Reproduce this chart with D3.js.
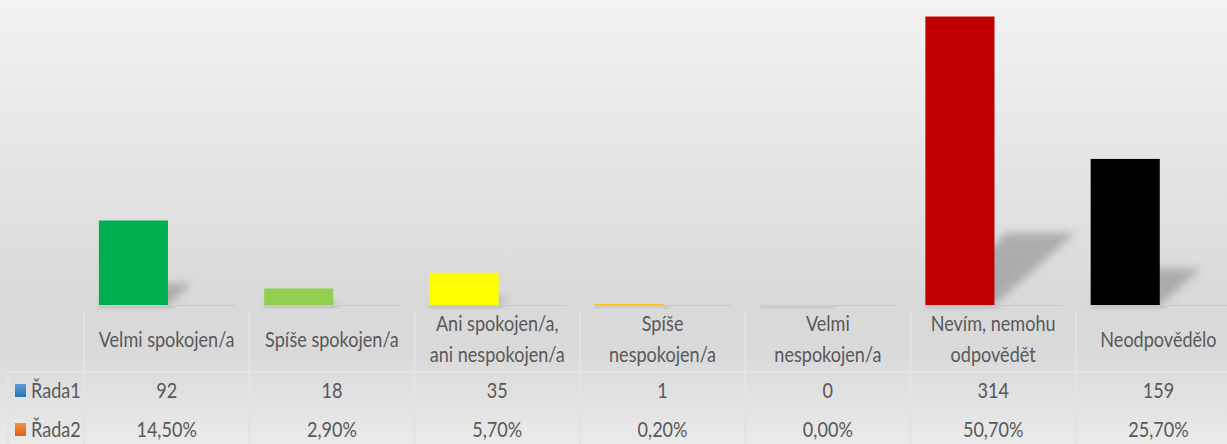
<!DOCTYPE html>
<meta charset="utf-8">
<script src="https://d3js.org/d3.v7.min.js"></script>
<style>
  body { margin: 0; background: #fff; }
  text { font-family: Lato, "Open Sans", sans-serif; fill: #595959; }
</style>
<div id="chart"></div>
<script>

// data
var categories = ["Velmi spokojen/a", "Spíše spokojen/a", "Ani spokojen/a, ani nespokojen/a",
                  "Spíše nespokojen/a", "Velmi nespokojen/a", "Nevím, nemohu odpovědět", "Neodpovědělo"];
var labelLines = [["Velmi spokojen/a"], ["Spíše spokojen/a"], ["Ani spokojen/a,", "ani nespokojen/a"],
                  ["Spíše", "nespokojen/a"], ["Velmi", "nespokojen/a"], ["Nevím, nemohu", "odpovědět"], ["Neodpovědělo"]];
var rada1 = [92, 18, 35, 1, 0, 314, 159];
var rada2 = ["14,50%", "2,90%", "5,70%", "0,20%", "0,00%", "50,70%", "25,70%"];
var barColors = ["#00b050", "#92d050", "#ffff00", "#ffc000", "#ff0000", "#c00000", "#000000"];
var seriesNames = ["Řada1", "Řada2"];

var width = 1227, height = 444;
var baseY = 305;
var sx = 0.86; // text is squeezed horizontally in the original

var svg = d3.select("#chart").append("svg")
  .attr("width", width)
  .attr("height", height);

var defs = svg.append("defs");
var bg = defs.append("linearGradient").attr("id", "bg")
  .attr("x1", 0).attr("y1", 0).attr("x2", 0).attr("y2", 1);
bg.append("stop").attr("offset", "0").attr("stop-color", "#f2f2f2");
bg.append("stop").attr("offset", "0.68").attr("stop-color", "#d9d9d9");
bg.append("stop").attr("offset", "0.8").attr("stop-color", "#dadada");
bg.append("stop").attr("offset", "1").attr("stop-color", "#eaeaea");

defs.append("filter").attr("id", "blur")
  .attr("x", "-50%").attr("y", "-50%").attr("width", "200%").attr("height", "200%")
  .append("feGaussianBlur").attr("stdDeviation", 4);
defs.append("filter").attr("id", "blur2")
  .append("feGaussianBlur").attr("stdDeviation", 1);

var g1 = defs.append("linearGradient").attr("id", "k0").attr("x1", 0).attr("y1", 0).attr("x2", 0).attr("y2", 1);
g1.append("stop").attr("offset", 0).attr("stop-color", "#5b9bd5");
g1.append("stop").attr("offset", 1).attr("stop-color", "#2e75b6");
var g2 = defs.append("linearGradient").attr("id", "k1").attr("x1", 0).attr("y1", 0).attr("x2", 0).attr("y2", 1);
g2.append("stop").attr("offset", 0).attr("stop-color", "#f4903e");
g2.append("stop").attr("offset", 1).attr("stop-color", "#d9621b");

svg.append("rect").attr("width", width).attr("height", height).attr("fill", "url(#bg)");

// scales
var x = d3.scaleBand()
  .domain(categories)
  .range([84, 84 + 7 * 165.3])
  .padding(0);
var bw = x.bandwidth();
var barOff = bw * 0.09, barW = bw * 0.418;

var y = d3.scaleLinear()
  .domain([0, 332])
  .range([baseY, 0]);

// shadows
svg.append("g").selectAll("path")
  .data(rada1)
  .enter().append("path")
    .attr("d", function(d, i) {
      var x0 = x(categories[i]) + barOff, x1 = x0 + barW;
      var h = baseY - y(d);
      var dh = h * 0.25, dx = h * 0.28;
      return "M" + x0 + "," + baseY + "L" + x1 + "," + baseY +
             "L" + (x1 + dx) + "," + (baseY - dh) + "L" + (x0 + dx) + "," + (baseY - dh) + "Z";
    })
    .attr("fill", "#8c8c8c")
    .attr("opacity", 0.6)
    .attr("filter", "url(#blur)");

// floor segments
svg.append("g").selectAll("line")
  .data(categories)
  .enter().append("line")
    .attr("x1", function(d) { return x(d) + barOff; })
    .attr("x2", function(d) { return x(d) + barOff + bw * 0.83; })
    .attr("y1", baseY + 0.5).attr("y2", baseY + 0.5)
    .attr("stroke", "#dcc4b4")
    .attr("stroke-width", 1);

svg.append("g").selectAll("rect")
  .data(categories)
  .enter().append("rect")
    .attr("x", function(d) { return x(d) + barOff; })
    .attr("y", baseY + 1.5)
    .attr("width", barW + 6)
    .attr("height", 1.5)
    .attr("fill", "#bdbdbd")
    .attr("filter", "url(#blur2)");

// bars
svg.append("g").selectAll("rect")
  .data(rada1)
  .enter().append("rect")
    .attr("x", function(d, i) { return x(categories[i]) + barOff; })
    .attr("y", function(d) { return y(d); })
    .attr("width", barW)
    .attr("height", function(d) { return baseY - y(d); })
    .attr("fill", function(d, i) { return barColors[i]; });

// data table grid
var grid = svg.append("g").attr("stroke", "#e3e3e3").attr("stroke-width", 2);
var bounds = categories.map(function(d) { return x(d); }).concat([x.range()[1]]);
grid.selectAll(".v").data(bounds).enter().append("line")
  .attr("x1", function(d) { return d; }).attr("x2", function(d) { return d; })
  .attr("y1", 312).attr("y2", height);
grid.append("line").attr("x1", 8).attr("x2", 8).attr("y1", 372).attr("y2", height);
[372, 411].forEach(function(yy) {
  grid.append("line").attr("x1", 8).attr("x2", width).attr("y1", yy).attr("y2", yy);
});

// category labels
var labels = svg.append("g").selectAll("text")
  .data(labelLines)
  .enter().append("text")
    .attr("transform", function(d, i) {
      var ly = d.length === 1 ? 347 : 331;
      return "translate(" + (x(categories[i]) + bw / 2) + "," + ly + ") scale(" + sx + ",1)";
    })
    .attr("text-anchor", "middle")
    .style("font-size", "21px");
labels.selectAll("tspan")
  .data(function(d) { return d; })
  .enter().append("tspan")
    .attr("x", 0)
    .attr("dy", function(d, j) { return j === 0 ? 0 : 31; })
    .text(function(d) { return d; });

// value rows
var rows = [rada1, rada2];
var rowY = [398, 437];
rows.forEach(function(r, k) {
  svg.append("g").selectAll("text")
    .data(r)
    .enter().append("text")
      .attr("transform", function(d, i) {
        return "translate(" + (x(categories[i]) + bw / 2) + "," + rowY[k] + ") scale(" + sx + ",1)";
      })
      .attr("text-anchor", "middle")
      .style("font-size", "21px")
      .text(function(d) { return d; });

  svg.append("rect")
    .attr("x", 15).attr("y", rowY[k] - 14)
    .attr("width", 11).attr("height", 13)
    .attr("fill", "url(#k" + k + ")");

  svg.append("text")
    .attr("transform", "translate(31," + rowY[k] + ") scale(" + sx + ",1)")
    .style("font-size", "21px")
    .text(seriesNames[k]);
});

</script>
